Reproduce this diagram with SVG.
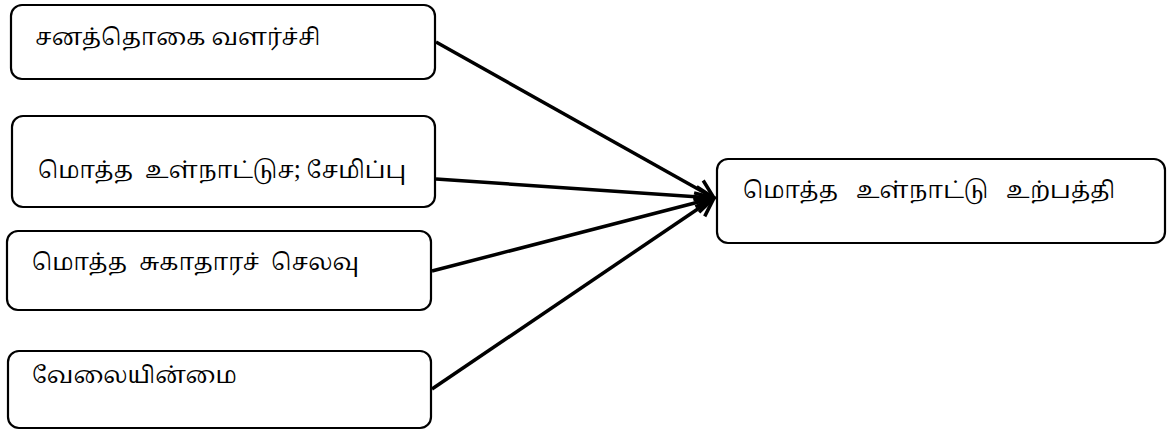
<svg xmlns="http://www.w3.org/2000/svg" width="1172" height="430" viewBox="0 0 1172 430">
<style>
.box{fill:#fff;stroke:#000;stroke-width:2.2}
.lbl{font-family:"Noto Serif Tamil","Noto Sans Tamil","Noto Sans","DejaVu Sans",sans-serif;font-size:23px;fill:#000;white-space:pre}
.conn{stroke:#000;stroke-width:3.5;fill:none;marker-end:url(#arr)}
</style>
<defs>
<marker id="arr" viewBox="0 0 22 24" refX="20" refY="12" markerWidth="22" markerHeight="24" markerUnits="userSpaceOnUse" orient="auto">
<path d="M2,2 L20,12 L2,22" fill="none" stroke="#000" stroke-width="3.5" stroke-linejoin="miter"/>
</marker>
</defs>
<rect width="1172" height="430" fill="#fff"/>
<g id="n1"><rect class="box" x="11" y="5" width="424" height="74" rx="11"/><text class="lbl" x="35" y="45">சனத்தொகை வளர்ச்சி</text></g>
<g id="n2"><rect class="box" x="12" y="116" width="423" height="91" rx="11"/><text class="lbl" x="38" y="178">மொத்த  உள்நாட்டுச; சேமிப்பு</text></g>
<g id="n3"><rect class="box" x="7" y="231" width="424" height="79" rx="11"/><text class="lbl" x="32" y="270">மொத்த  சுகாதாரச்  செலவு</text></g>
<g id="n4"><rect class="box" x="8" y="351" width="423" height="77" rx="11"/><text class="lbl" x="32" y="383">வேலையின்மை</text></g>
<g id="n5"><rect class="box" x="717" y="159" width="448" height="84" rx="11"/><text class="lbl" x="743" y="198">மொத்த   உள்நாட்டு   உற்பத்தி</text></g>
<g id="connectors">
<line class="conn" x1="436" y1="42" x2="714" y2="198"/>
<line class="conn" x1="436" y1="179" x2="714" y2="198"/>
<line class="conn" x1="432" y1="271" x2="714" y2="198"/>
<line class="conn" x1="432" y1="389" x2="714" y2="198"/>
</g>
</svg>
